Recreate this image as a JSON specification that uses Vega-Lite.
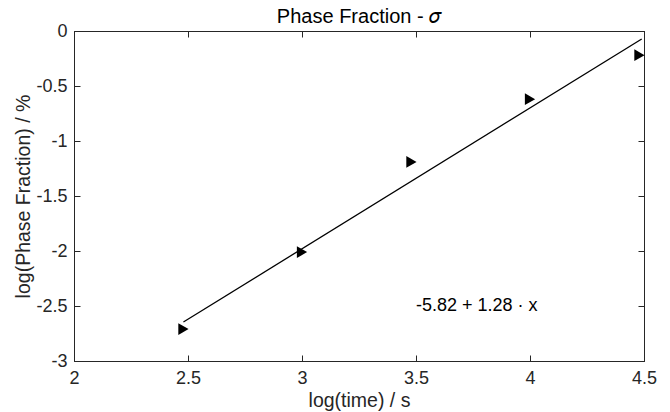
{
  "$schema": "https://vega.github.io/schema/vega-lite/v6.json",
  "width": 570,
  "height": 330,
  "autosize": "none",
  "padding": {"left": 74, "top": 31, "right": 26, "bottom": 51},
  "background": "white",
  "config": {
    "font": "Liberation Sans",
    "view": {"stroke": "#262626", "strokeWidth": 1},
    "axis": {
      "grid": false,
      "domainColor": "#262626",
      "tickColor": "#262626",
      "labelColor": "#262626",
      "titleColor": "#262626",
      "labelFont": "Liberation Sans",
      "titleFont": "Liberation Sans",
      "labelFontSize": 18,
      "titleFontSize": 19.5,
      "titleFontWeight": "normal",
      "tickSize": -6
    }
  },
  "title": {"text": "Phase Fraction - 𝜎", "font": "Liberation Sans", "fontSize": 20, "fontWeight": "normal", "color": "#000000", "offset": -5},
  "datasets": {
    "fit": [
      {"time": 2.48, "fraction": -2.6456},
      {"time": 4.49, "fraction": -0.0728}
    ],
    "obs": [
      {"time": 2.48, "fraction": -2.71},
      {"time": 3.0, "fraction": -2.01},
      {"time": 3.48, "fraction": -1.19},
      {"time": 4.0, "fraction": -0.62},
      {"time": 4.48, "fraction": -0.22}
    ],
    "note": [
      {"time": 3.5, "fraction": -2.5, "label": "-5.82 + 1.28 · x"}
    ]
  },
  "resolve": {"axis": {"x": "independent", "y": "independent"}},
  "layer": [
    {
      "layer": [
        {
          "data": {"name": "fit"},
          "mark": {"type": "line", "color": "#000000", "strokeWidth": 1.3},
          "encoding": {
            "x": {"field": "time", "type": "quantitative", "scale": {"domain": [2, 4.5], "nice": false, "zero": false},
              "axis": {"title": "log(time) / s", "values": [2, 2.5, 3, 3.5, 4, 4.5], "labelExpr": "format(datum.value, '~g')", "labelPadding": 14, "titlePadding": 4, "labelFlush": false}},
            "y": {"field": "fraction", "type": "quantitative", "scale": {"domain": [-3, 0], "nice": false, "zero": false},
              "axis": {"title": "log(Phase Fraction) / %", "values": [-3, -2.5, -2, -1.5, -1, -0.5, 0], "labelExpr": "datum.value < 0 ? '-' + format(-datum.value, '~g') : format(datum.value, '~g')", "labelPadding": 13, "titlePadding": 2, "labelFlush": false}}
          }
        },
        {
          "data": {"name": "obs"},
          "mark": {"type": "point", "shape": "triangle-right", "filled": true, "color": "#000000", "opacity": 1, "size": 140},
          "encoding": {
            "x": {"field": "time", "type": "quantitative"},
            "y": {"field": "fraction", "type": "quantitative"}
          }
        },
        {
          "data": {"name": "note"},
          "mark": {"type": "text", "align": "left", "baseline": "middle", "fontSize": 18, "font": "Liberation Sans", "color": "#000000"},
          "encoding": {
            "x": {"field": "time", "type": "quantitative"},
            "y": {"field": "fraction", "type": "quantitative"},
            "text": {"field": "label"}
          }
        }
      ]
    },
    {
      "data": {"name": "obs"},
      "mark": {"type": "point", "opacity": 0},
      "encoding": {
        "x": {"field": "time", "type": "quantitative", "axis": {"orient": "top", "labels": false, "title": null, "values": [2, 2.5, 3, 3.5, 4, 4.5]}},
        "y": {"field": "fraction", "type": "quantitative", "axis": {"orient": "right", "labels": false, "title": null, "values": [-3, -2.5, -2, -1.5, -1, -0.5, 0]}}
      }
    }
  ]
}
